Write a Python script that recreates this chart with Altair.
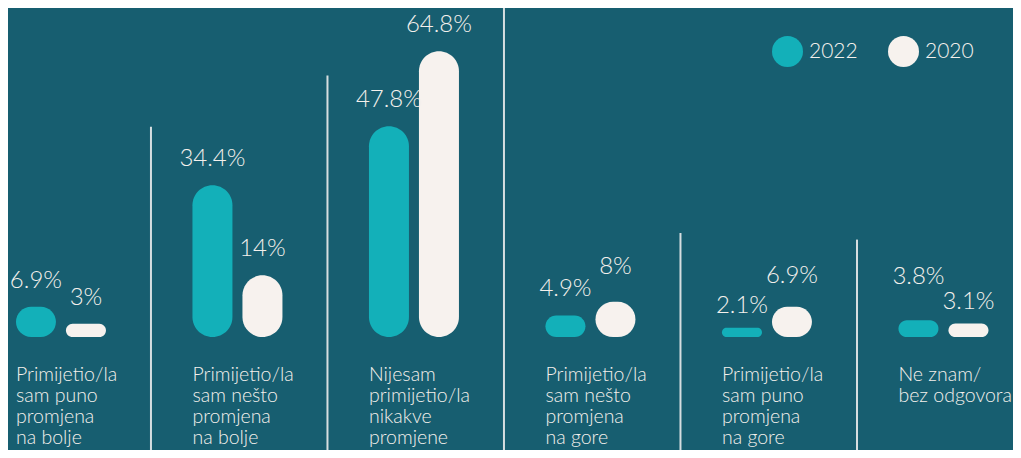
import altair as alt
import pandas as pd

# ---- data ----
CATEGORIES = [
    "Primijetio/la\nsam puno\npromjena\nna bolje",
    "Primijetio/la\nsam nešto\npromjena\nna bolje",
    "Nijesam\nprimijetio/la\nnikakve\npromjene",
    "Primijetio/la\nsam nešto\npromjena\nna gore",
    "Primijetio/la\nsam puno\npromjena\nna gore",
    "Ne znam/\nbez odgovora",
]
YEARS = ["2022", "2020"]
VALUES_2022 = [6.9, 34.4, 47.8, 4.9, 2.1, 3.8]
VALUES_2020 = [3, 14, 64.8, 8, 6.9, 3.1]
SEPARATOR_TOPS = [47.7, 59.3, 76.0, 23.6, 22.1]  # in % units of the value axis

# ---- style ----
BG = "#175e70"
TEAL = "#13b0b9"
CREAM = "#f7f2ee"
TEXT = "#f4f0ec"
SEP = "#d6dee0"
FONT = "Lato"
WEIGHT = 300
W, H = 1005, 442
Y_MIN, Y_MAX = -25.6, 74.6
X_DOM = [-0.3, 5.394]
BAR_SHIFT = 25
# vertical nudges (px) of a few value labels, as in the reference layout
LABEL_NUDGE = {(3, "2020"): -9, (4, "2022"): 4, (4, "2020"): -5,
               (5, "2022"): -17, (5, "2020"): 5}

rows = []
for i, cat in enumerate(CATEGORIES):
    rows.append({"i": i, "cat": cat, "year": "2022", "value": VALUES_2022[i]})
    rows.append({"i": i, "cat": cat, "year": "2020", "value": VALUES_2020[i]})
df = pd.DataFrame(rows)
cats_df = pd.DataFrame({"i": list(range(len(CATEGORIES))), "label": CATEGORIES})
sep_df = pd.DataFrame({"k": list(range(len(SEPARATOR_TOPS))), "top": SEPARATOR_TOPS})

xs = alt.Scale(domain=X_DOM, nice=False, zero=False, padding=0)
ys = alt.Scale(domain=[Y_MIN, Y_MAX], nice=False, zero=False, padding=0)
color = alt.Color(
    "year:N",
    scale=alt.Scale(domain=YEARS, range=[TEAL, CREAM]),
    legend=alt.Legend(
        orient="none", legendX=764, legendY=28, direction="horizontal",
        title=None, symbolType="circle", symbolSize=961, symbolStrokeWidth=0,
        symbolOpacity=1, labelFontSize=21, labelColor=TEXT, labelFont=FONT,
        labelFontWeight=WEIGHT, labelOffset=6, columnPadding=30, padding=0,
    ),
)

base = alt.Chart(df)
layers = []

# separators
layers.append(
    alt.Chart(sep_df).transform_calculate(sx="datum.k + 0.51")
    .mark_rule(color=SEP, strokeWidth=2)
    .encode(x=alt.X("sx:Q", scale=xs, axis=None),
            y=alt.Y("top:Q", scale=ys, axis=None),
            y2=alt.datum(Y_MIN))
)

# bars
for yr, shift in [("2022", -BAR_SHIFT), ("2020", BAR_SHIFT)]:
    layers.append(
        base.transform_filter(alt.datum.year == yr)
        .mark_bar(size=40, cornerRadius=20, xOffset=shift)
        .encode(x=alt.X("i:Q", scale=xs, axis=None),
                y=alt.Y("value:Q", scale=ys, axis=None),
                y2=alt.datum(0),
                color=color)
    )

# value labels
def nudge_test(keys):
    return " || ".join(f"(datum.i == {i} && datum.year == '{y}')" for i, y in keys)

nudged = list(LABEL_NUDGE.keys())
for yr, shift in [("2022", -BAR_SHIFT), ("2020", BAR_SHIFT)]:
    layers.append(
        base.transform_filter(alt.datum.year == yr)
        .transform_filter(f"!({nudge_test(nudged)})")
        .transform_calculate(label="datum.value + '%'")
        .mark_text(font=FONT, fontSize=24, fontWeight=WEIGHT, color=TEXT,
                   align="center", baseline="alphabetic", dy=-19, xOffset=shift)
        .encode(x=alt.X("i:Q", scale=xs, axis=None),
                y=alt.Y("value:Q", scale=ys, axis=None),
                text="label:N")
    )
for (i, yr), nd in LABEL_NUDGE.items():
    shift = -BAR_SHIFT if yr == "2022" else BAR_SHIFT
    layers.append(
        base.transform_filter(f"datum.i == {i} && datum.year == '{yr}'")
        .transform_calculate(label="datum.value + '%'")
        .mark_text(font=FONT, fontSize=24, fontWeight=WEIGHT, color=TEXT,
                   align="center", baseline="alphabetic", dy=-19 + nd, xOffset=shift)
        .encode(x=alt.X("i:Q", scale=xs, axis=None),
                y=alt.Y("value:Q", scale=ys, axis=None),
                text="label:N")
    )

# category labels
layers.append(
    alt.Chart(cats_df).transform_calculate(lines="split(datum.label, '\\n')")
    .mark_text(font=FONT, fontSize=19.5, fontWeight=WEIGHT, color=TEXT, align="left",
               baseline="alphabetic", lineHeight=21, dy=44, xOffset=-45)
    .encode(x=alt.X("i:Q", scale=xs, axis=None),
            y=alt.datum(0),
            text="lines:N")
)

chart = (
    alt.layer(*layers)
    .properties(width=W, height=H, autosize=alt.AutoSizeParams(type="none"), padding=0)
    .configure(background=BG)
    .configure_view(strokeWidth=0)
)

chart.save("out.html", embed_options={"renderer": "svg", "actions": False})
